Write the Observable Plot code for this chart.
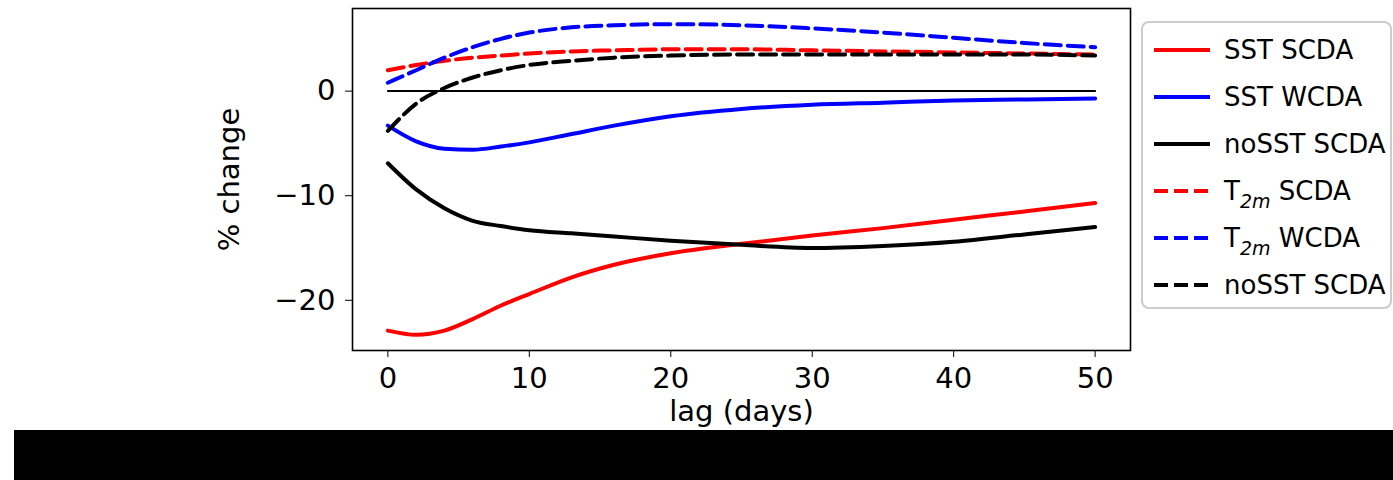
<!DOCTYPE html>
<html>
<head>
<meta charset="utf-8">
<script src="https://cdn.jsdelivr.net/npm/d3@7"></script>
<script src="https://cdn.jsdelivr.net/npm/@observablehq/plot@0.6"></script>
<style>
  body { margin: 0; background: #fff; font-family: "DejaVu Sans", sans-serif; }
  #wrap { position: relative; width: 1393px; overflow: hidden; }
  #band { height: 50px; margin-left: 14px; background: #000; }
</style>
</head>
<body>
<div id="wrap"><div id="chart"></div><div id="band"></div></div>
<script>
// ---- data ----
const lags = [0, 2, 4, 6, 8, 10, 13, 16, 20, 25, 30, 35, 40, 45, 50];

const sstSCDA   = [-22.9, -23.3, -22.9, -21.8, -20.5, -19.4, -17.8, -16.6, -15.5, -14.6, -13.8, -13.1, -12.3, -11.5, -10.7];
const sstWCDA   = [-3.3, -4.8, -5.5, -5.6, -5.3, -4.9, -4.1, -3.3, -2.4, -1.7, -1.3, -1.1, -0.9, -0.8, -0.7];
const noSSTSCDA = [-6.9, -9.4, -11.2, -12.4, -12.9, -13.3, -13.6, -13.9, -14.3, -14.7, -15.0, -14.8, -14.4, -13.7, -13.0];
const t2mSCDA   = [2.0, 2.5, 2.9, 3.2, 3.4, 3.6, 3.8, 3.9, 4.0, 4.0, 3.9, 3.8, 3.7, 3.6, 3.5];
const t2mWCDA   = [0.8, 2.0, 3.2, 4.2, 5.0, 5.6, 6.1, 6.3, 6.4, 6.3, 6.0, 5.6, 5.1, 4.6, 4.2];
const t2mNoSST  = [-3.8, -1.2, 0.3, 1.3, 2.0, 2.5, 2.9, 3.2, 3.4, 3.5, 3.5, 3.5, 3.5, 3.5, 3.4];
const zeroLine  = [0, 0, 0, 0, 0, 0, 0, 0, 0, 0, 0, 0, 0, 0, 0];

const seriesKeys   = ["sstSCDA", "sstWCDA", "noSSTSCDA", "t2mSCDA", "t2mWCDA", "t2mNoSST"];
const seriesLabels = ["SST SCDA", "SST WCDA", "noSST SCDA", "T2m SCDA", "T2m WCDA", "noSST SCDA"];
const seriesColors = ["#ff0000", "#0000ff", "#000000", "#ff0000", "#0000ff", "#000000"];
const seriesDashed = [false, false, false, true, true, true];
const seriesValues = [sstSCDA, sstWCDA, noSSTSCDA, t2mSCDA, t2mWCDA, t2mNoSST];

const xTicks = [0, 10, 20, 30, 40, 50];
const yTicks = [-20, -10, 0];
const xLabel = "lag (days)";
const yLabel = "% change";

// ---- build rows ----
const rows = seriesKeys.flatMap((k, si) =>
  lags.map((l, i) => ({ lag: l, value: seriesValues[si][i], key: k, dashed: seriesDashed[si] })));
const zeroRows = lags.map((l, i) => ({ lag: l, value: zeroLine[i] }));

const FS = 29;
const minus = d => (d < 0 ? "\u2212" + Math.abs(d) : String(d));
const W = 1393, MR = 263;

const plot = Plot.plot({
  width: W,
  height: 430,
  marginLeft: 352,
  marginRight: MR,
  marginTop: 8,
  marginBottom: 80,
  style: { fontFamily: "DejaVu Sans, sans-serif", fontSize: FS + "px", color: "black", background: "white" },
  x: { domain: [-2.5, 52.5] },
  y: { domain: [-24.8, 7.9] },
  color: { domain: seriesKeys, range: seriesColors },
  marks: [
    Plot.lineY(zeroRows, { x: "lag", y: "value", stroke: "black", strokeWidth: 2 }),
    Plot.line(rows.filter(d => !d.dashed), { x: "lag", y: "value", z: "key", stroke: "key", strokeWidth: 4, curve: "monotone-x" }),
    Plot.line(rows.filter(d => d.dashed), { x: "lag", y: "value", z: "key", stroke: "key", strokeWidth: 4, strokeDasharray: "16,7", curve: "monotone-x" }),
    Plot.frame({ stroke: "black", strokeWidth: 1.6 }),
    Plot.axisX({ ticks: xTicks, tickSize: 7, tickPadding: 10, fontSize: FS, tickFormat: d => String(d),
                 label: xLabel, labelAnchor: "center", labelArrow: "none", labelOffset: 70 }),
    Plot.axisY({ ticks: yTicks, tickSize: 7, tickPadding: 10, fontSize: FS, tickFormat: minus,
                 label: yLabel, labelAnchor: "center", labelArrow: "none", labelOffset: 134 })
  ]
});
document.getElementById("chart").appendChild(plot);

// ---- legend (outside the axes, right side) ----
const svg = d3.select(plot);
const LFS = 26;
const lg = svg.append("g").attr("font-family", "DejaVu Sans, sans-serif").attr("font-size", LFS)
  .attr("text-anchor", "start");
const lx = W - MR + 12, ly = 22, rowY0 = 50, rowStep = 47;
lg.append("rect").attr("x", lx).attr("y", ly).attr("width", W - lx - 2).attr("height", 286)
  .attr("rx", 7).attr("fill", "white").attr("fill-opacity", 0.9).attr("stroke", "#cccccc").attr("stroke-width", 2);
seriesKeys.forEach((k, i) => {
  const y = rowY0 + i * rowStep;
  lg.append("line").attr("x1", lx + 12).attr("x2", lx + 68).attr("y1", y).attr("y2", y)
    .attr("stroke", seriesColors[i]).attr("stroke-width", 4)
    .attr("stroke-dasharray", seriesDashed[i] ? "14,6" : null);
  const t = lg.append("text").attr("x", lx + 82).attr("y", y + 9).attr("fill", "black")
    .attr("text-anchor", "start");
  const lab = seriesLabels[i];
  if (lab.startsWith("T2m")) {
    t.append("tspan").text("T");
    t.append("tspan").attr("dy", 8).attr("font-size", 19).attr("font-style", "italic").text("2m");
    t.append("tspan").attr("dy", -8).text(lab.slice(3));
  } else {
    t.text(lab);
  }
});
</script>
</body>
</html>
